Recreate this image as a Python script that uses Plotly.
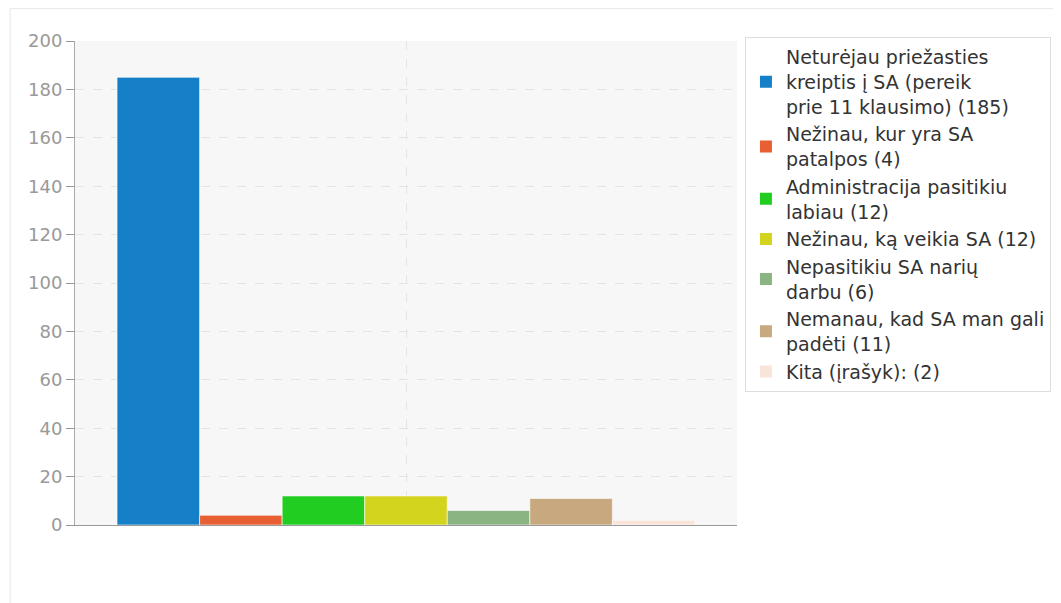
import plotly.graph_objects as go

# answers and counts
labels = [
    "Neturėjau priežasties<br>kreiptis į SA (pereik<br>prie 11 klausimo)",
    "Nežinau, kur yra SA<br>patalpos",
    "Administracija pasitikiu<br>labiau",
    "Nežinau, ką veikia SA",
    "Nepasitikiu SA narių<br>darbu",
    "Nemanau, kad SA man gali<br>padėti",
    "Kita (įrašyk):",
]
counts = [185, 4, 12, 12, 6, 11, 2]
colors = ["#1580c8", "#e85f33", "#22cd22", "#d3d41d", "#8ab482", "#c8a97f", "#f9e4da"]
category = [""]

fig = go.Figure()

for i, (name, val, col) in enumerate(zip(labels, counts, colors)):
    # the bar itself
    fig.add_trace(go.Bar(
        x=category, y=[val], name=name,
        marker=dict(color=col, line=dict(color="rgba(255,255,255,0.6)", width=1)),
        showlegend=False, hoverinfo="y",
    ))
    # legend entry with a small square marker
    fig.add_trace(go.Scatter(
        x=[None], y=[None], mode="markers", name=f"{name} ({val})",
        marker=dict(symbol="square", size=7, color=col),
    ))

# page body has an 8px margin, so margins are shifted by that
fig.update_layout(
    width=1061, height=603,
    margin=dict(l=67, r=332, t=33, b=86),
    paper_bgcolor="white",
    plot_bgcolor="#f7f7f7",
    barmode="group",
    bargap=0.127,
    bargroupgap=0,
    font=dict(family="DejaVu Sans", size=18, color="#333"),
    legend=dict(
        x=1.012, y=1.008, xanchor="left", yanchor="top",
        bgcolor="white", bordercolor="#dddddd", borderwidth=1,
        font=dict(size=19, color="#333"),
        itemsizing="constant", itemwidth=30,
        tracegroupgap=0, maxheight=600,
    ),
    shapes=[dict(
        type="rect", xref="paper", yref="paper",
        x0=-0.098, x1=1.6, y0=-0.3, y1=1.067,
        line=dict(color="#e8e8e8", width=1), layer="below",
    )],
)

fig.update_xaxes(
    type="category", range=[-0.5, 0.5],
    showgrid=True, gridcolor="#e4e4e4", griddash="dash",
    showline=True, linecolor="#999", linewidth=1, mirror=False,
    showticklabels=False, ticks="",
)
fig.update_yaxes(
    range=[0, 200], dtick=20,
    showgrid=True, gridcolor="#e4e4e4", griddash="dash", gridwidth=1,
    showline=True, linecolor="#aaa", linewidth=1,
    ticks="outside", ticklen=8, tickcolor="#999",
    tickfont=dict(family="DejaVu Sans", size=18, color="#999"),
    zeroline=False,
)

fig.write_html("out.html")
